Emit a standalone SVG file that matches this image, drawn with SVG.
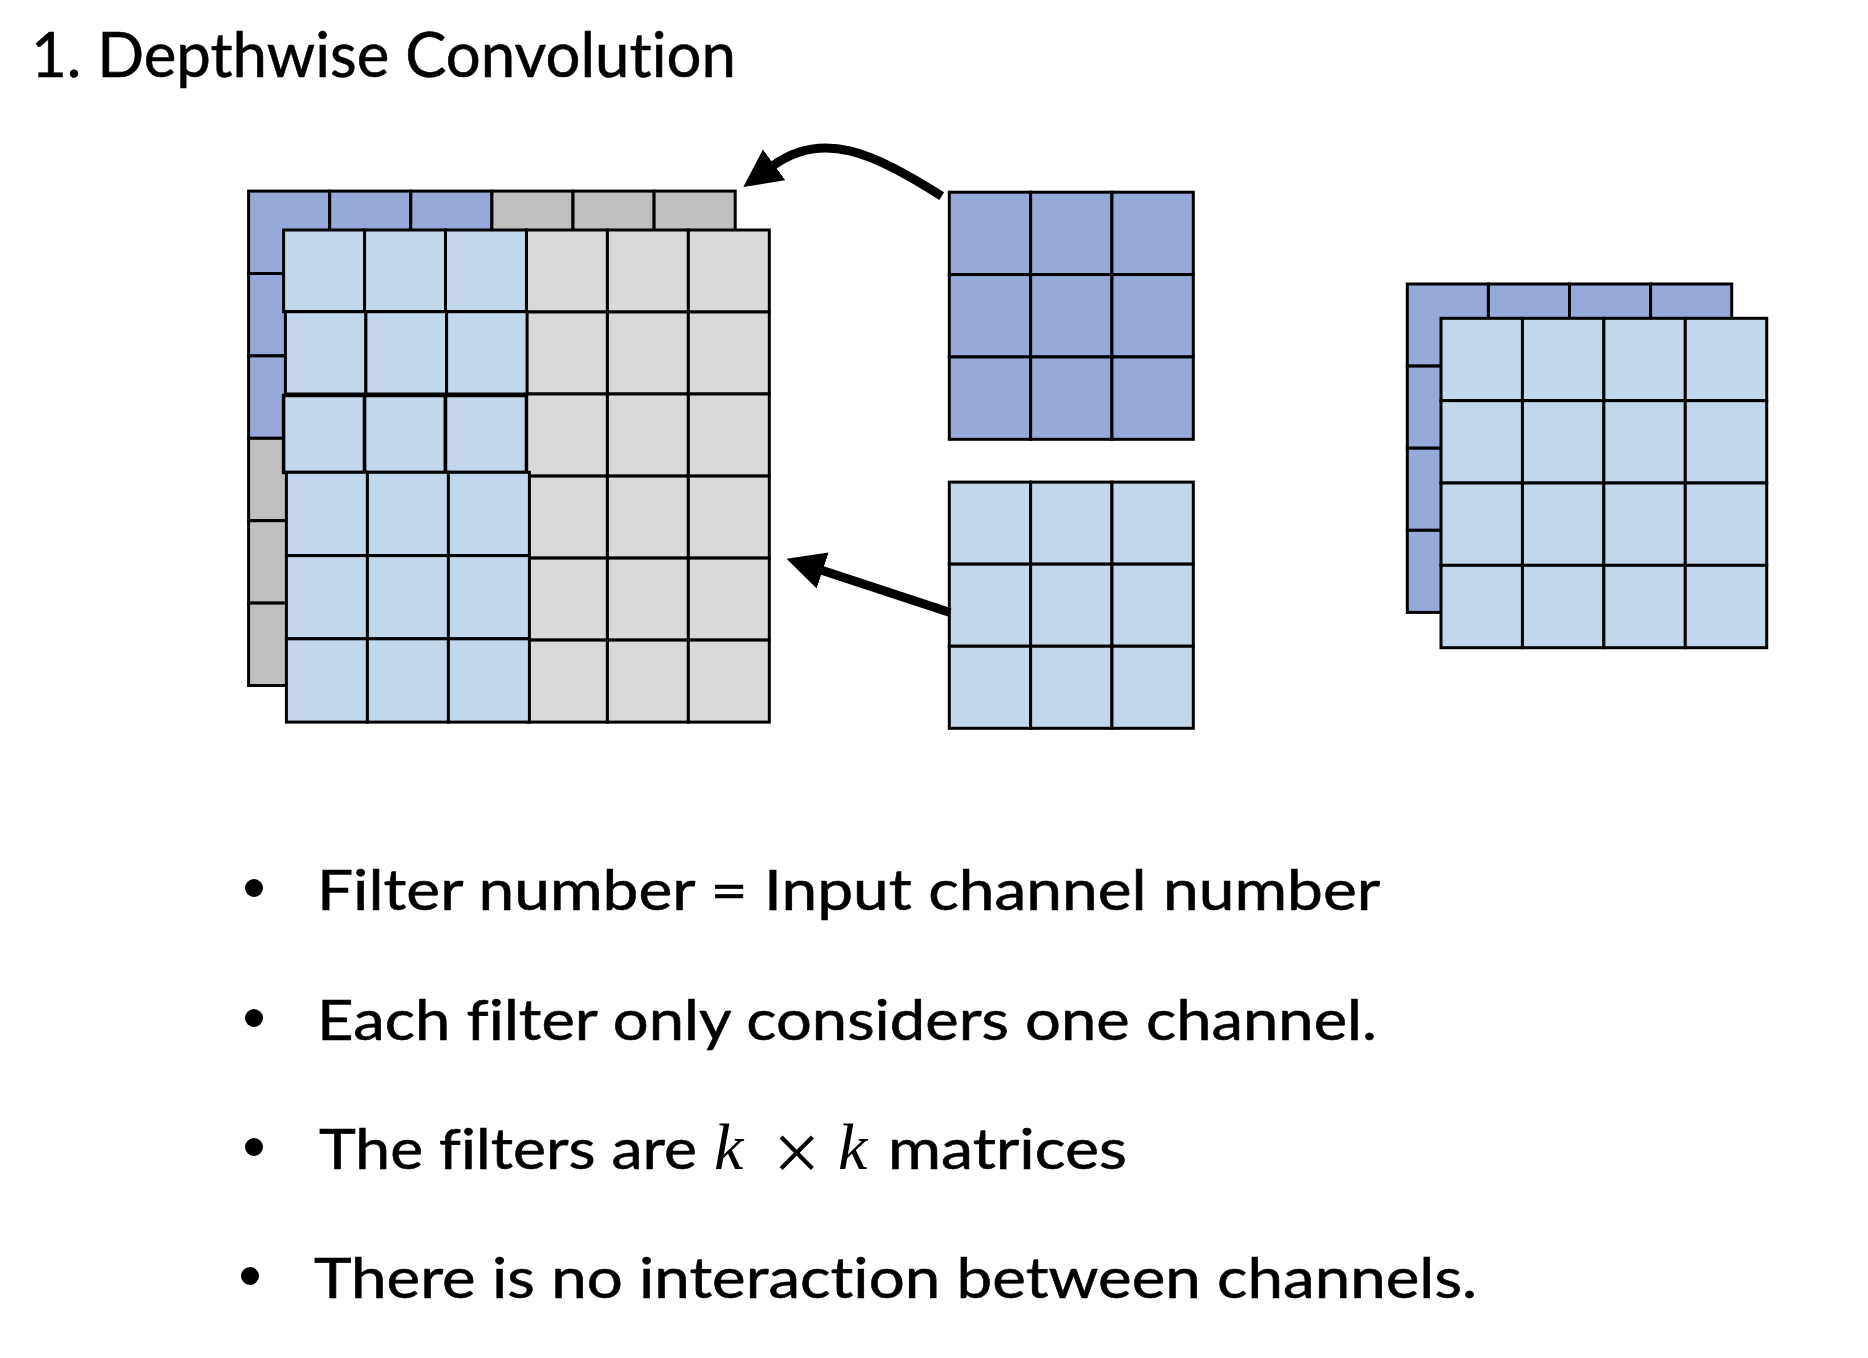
<svg xmlns="http://www.w3.org/2000/svg" width="1868" height="1358" viewBox="0 0 1868 1358">
<style>
rect{stroke:#000;stroke-width:3}
.db{fill:#96A9D8}
.lb{fill:#C3D7EB}
.g1{fill:#BFBFBF}
.g2{fill:#D9D9D9}
.txt{font-family:Lato,"Open Sans","Liberation Sans",sans-serif;fill:#000;stroke:#000;stroke-width:0.6;font-variant-ligatures:none;font-feature-settings:"liga" 0,"clig" 0,"dlig" 0,"calt" 0}
.math{font-family:"Liberation Serif","DejaVu Serif",serif;fill:#000}
.conn{fill:none;stroke:#000;stroke-width:9}
</style>
<defs>
<marker id="head" viewBox="0 0 38 38" markerWidth="38" markerHeight="38" refX="1" refY="19" orient="auto" markerUnits="userSpaceOnUse">
<path d="M0,0 L38,19 L0,38 Z" fill="#000"/>
</marker>
</defs>
<rect x="0" y="0" width="1868" height="1358" style="fill:#fff;stroke:none"/>

<g id="title">
<text class="txt" x="31" y="77" font-size="62" textLength="705" lengthAdjust="spacingAndGlyphs">1. Depthwise Convolut<tspan dx="0.1">ion</tspan></text>
</g>

<g id="input-tensor">
<g id="input-back-channel">
<rect class="db" x="248.6" y="191.1" width="81.1" height="82.4"/>
<rect class="db" x="329.7" y="191.1" width="81.1" height="82.4"/>
<rect class="db" x="410.8" y="191.1" width="81.1" height="82.4"/>
<rect class="g1" x="491.9" y="191.1" width="81.1" height="82.4"/>
<rect class="g1" x="573.0" y="191.1" width="81.1" height="82.4"/>
<rect class="g1" x="654.1" y="191.1" width="81.1" height="82.4"/>
<rect class="db" x="248.6" y="273.5" width="81.1" height="82.4"/>
<rect class="db" x="248.6" y="355.9" width="81.1" height="82.4"/>
<rect class="g1" x="248.6" y="438.3" width="81.1" height="82.4"/>
<rect class="g1" x="248.6" y="520.7" width="81.1" height="82.4"/>
<rect class="g1" x="248.6" y="603.1" width="81.1" height="82.4"/>
</g>
<g id="input-front-channel">
<rect class="g2" x="526.45" y="230" width="80.95" height="82"/>
<rect class="g2" x="607.4" y="230" width="80.95" height="82"/>
<rect class="g2" x="688.35" y="230" width="80.95" height="82"/>
<rect class="g2" x="526.45" y="312" width="80.95" height="82"/>
<rect class="g2" x="607.4" y="312" width="80.95" height="82"/>
<rect class="g2" x="688.35" y="312" width="80.95" height="82"/>
<rect class="g2" x="526.45" y="394" width="80.95" height="82.1"/>
<rect class="g2" x="607.4" y="394" width="80.95" height="82.1"/>
<rect class="g2" x="688.35" y="394" width="80.95" height="82.1"/>
<rect class="g2" x="526.45" y="476.1" width="80.95" height="82"/>
<rect class="g2" x="607.4" y="476.1" width="80.95" height="82"/>
<rect class="g2" x="688.35" y="476.1" width="80.95" height="82"/>
<rect class="g2" x="526.45" y="558.1" width="80.95" height="82"/>
<rect class="g2" x="607.4" y="558.1" width="80.95" height="82"/>
<rect class="g2" x="688.35" y="558.1" width="80.95" height="82"/>
<rect class="g2" x="526.45" y="640.1" width="80.95" height="82"/>
<rect class="g2" x="607.4" y="640.1" width="80.95" height="82"/>
<rect class="g2" x="688.35" y="640.1" width="80.95" height="82"/>

<rect class="lb" x="283.6" y="230" width="81" height="81.7"/>
<rect class="lb" x="364.6" y="230" width="80.9" height="81.7"/>
<rect class="lb" x="445.5" y="230" width="80.95" height="81.7"/>
<rect class="lb" x="285.4" y="311.7" width="80.5" height="82.3"/>
<rect class="lb" x="365.9" y="311.7" width="80.7" height="82.3"/>
<rect class="lb" x="446.6" y="311.7" width="80.5" height="82.3"/>
<rect class="lb" x="283.6" y="395.5" width="81" height="77" style="stroke-width:3.5"/>
<rect class="lb" x="364.6" y="395.5" width="80.9" height="77" style="stroke-width:3.5"/>
<rect class="lb" x="445.5" y="395.5" width="80.95" height="77" style="stroke-width:3.5"/>
<rect class="lb" x="286.4" y="472.3" width="81" height="83.3"/>
<rect class="lb" x="367.4" y="472.3" width="81" height="83.3"/>
<rect class="lb" x="448.4" y="472.3" width="81" height="83.3"/>
<rect class="lb" x="286.4" y="555.6" width="81" height="83.2"/>
<rect class="lb" x="367.4" y="555.6" width="81" height="83.2"/>
<rect class="lb" x="448.4" y="555.6" width="81" height="83.2"/>
<rect class="lb" x="286.4" y="638.8" width="81" height="83.3"/>
<rect class="lb" x="367.4" y="638.8" width="81" height="83.3"/>
<rect class="lb" x="448.4" y="638.8" width="81" height="83.3"/>
</g>
</g>

<g id="filter-1">
<rect class="db" x="949.3" y="192.2" width="81.33" height="82.37"/>
<rect class="db" x="1030.63" y="192.2" width="81.33" height="82.37"/>
<rect class="db" x="1111.96" y="192.2" width="81.33" height="82.37"/>
<rect class="db" x="949.3" y="274.57" width="81.33" height="82.37"/>
<rect class="db" x="1030.63" y="274.57" width="81.33" height="82.37"/>
<rect class="db" x="1111.96" y="274.57" width="81.33" height="82.37"/>
<rect class="db" x="949.3" y="356.94" width="81.33" height="82.37"/>
<rect class="db" x="1030.63" y="356.94" width="81.33" height="82.37"/>
<rect class="db" x="1111.96" y="356.94" width="81.33" height="82.37"/>
</g>

<g id="filter-2">
<rect class="lb" x="949.3" y="482.1" width="81.33" height="82.07"/>
<rect class="lb" x="1030.63" y="482.1" width="81.33" height="82.07"/>
<rect class="lb" x="1111.96" y="482.1" width="81.33" height="82.07"/>
<rect class="lb" x="949.3" y="564.17" width="81.33" height="82.07"/>
<rect class="lb" x="1030.63" y="564.17" width="81.33" height="82.07"/>
<rect class="lb" x="1111.96" y="564.17" width="81.33" height="82.07"/>
<rect class="lb" x="949.3" y="646.24" width="81.33" height="82.07"/>
<rect class="lb" x="1030.63" y="646.24" width="81.33" height="82.07"/>
<rect class="lb" x="1111.96" y="646.24" width="81.33" height="82.07"/>
</g>

<g id="output-tensor">
<g id="output-back-channel">
<rect class="db" x="1407.3" y="284" width="81.1" height="82.1"/>
<rect class="db" x="1488.4" y="284" width="81.1" height="82.1"/>
<rect class="db" x="1569.5" y="284" width="81.1" height="82.1"/>
<rect class="db" x="1650.6" y="284" width="81.1" height="82.1"/>
<rect class="db" x="1407.3" y="366.1" width="81.1" height="82.1"/>
<rect class="db" x="1407.3" y="448.2" width="81.1" height="82.1"/>
<rect class="db" x="1407.3" y="530.3" width="81.1" height="82.1"/>
</g>
<g id="output-front-channel">
<rect class="lb" x="1441" y="318.3" width="81.43" height="82.35"/>
<rect class="lb" x="1522.43" y="318.3" width="81.43" height="82.35"/>
<rect class="lb" x="1603.86" y="318.3" width="81.43" height="82.35"/>
<rect class="lb" x="1685.29" y="318.3" width="81.43" height="82.35"/>
<rect class="lb" x="1441" y="400.65" width="81.43" height="82.35"/>
<rect class="lb" x="1522.43" y="400.65" width="81.43" height="82.35"/>
<rect class="lb" x="1603.86" y="400.65" width="81.43" height="82.35"/>
<rect class="lb" x="1685.29" y="400.65" width="81.43" height="82.35"/>
<rect class="lb" x="1441" y="483" width="81.43" height="82.35"/>
<rect class="lb" x="1522.43" y="483" width="81.43" height="82.35"/>
<rect class="lb" x="1603.86" y="483" width="81.43" height="82.35"/>
<rect class="lb" x="1685.29" y="483" width="81.43" height="82.35"/>
<rect class="lb" x="1441" y="565.35" width="81.43" height="82.35"/>
<rect class="lb" x="1522.43" y="565.35" width="81.43" height="82.35"/>
<rect class="lb" x="1603.86" y="565.35" width="81.43" height="82.35"/>
<rect class="lb" x="1685.29" y="565.35" width="81.43" height="82.35"/>
</g>
</g>

<g id="connectors">
<path class="conn" d="M 941.7 196.1 C 872 152, 822.3 129.9, 773.3 165.4" marker-end="url(#head)"/>
<path class="conn" d="M 950 612.4 L 821.7 570.2" marker-end="url(#head)"/>
</g>

<g id="bullets">
<circle cx="254" cy="888" r="9" fill="#000"/>
<text class="txt" x="317" y="910" font-size="56" textLength="1063" lengthAdjust="spacingAndGlyphs">Filter number = Input channel number</text>
<circle cx="254" cy="1018" r="9" fill="#000"/>
<text class="txt" x="317" y="1040" font-size="56" textLength="1060" lengthAdjust="spacingAndGlyphs">Each f<tspan dx="0.1">ilter only considers one channel.</tspan></text>
<circle cx="254" cy="1147" r="9" fill="#000"/>
<text class="txt" x="319" y="1169" font-size="56" textLength="378" lengthAdjust="spacingAndGlyphs">The f<tspan dx="0.1">ilters are</tspan></text>
<text class="math" x="714" y="1169" font-size="66" font-style="italic">k</text>
<text class="math" x="773" y="1181" font-size="84">×</text>
<text class="math" x="838" y="1169" font-size="66" font-style="italic">k</text>
<text class="txt" x="888" y="1169" font-size="56" textLength="239" lengthAdjust="spacingAndGlyphs">matrices</text>
<circle cx="250" cy="1276" r="9" fill="#000"/>
<text class="txt" x="314" y="1298" font-size="56" textLength="1163" lengthAdjust="spacingAndGlyphs">There is no interact<tspan dx="0.1">ion between channels.</tspan></text>
</g>
</svg>
